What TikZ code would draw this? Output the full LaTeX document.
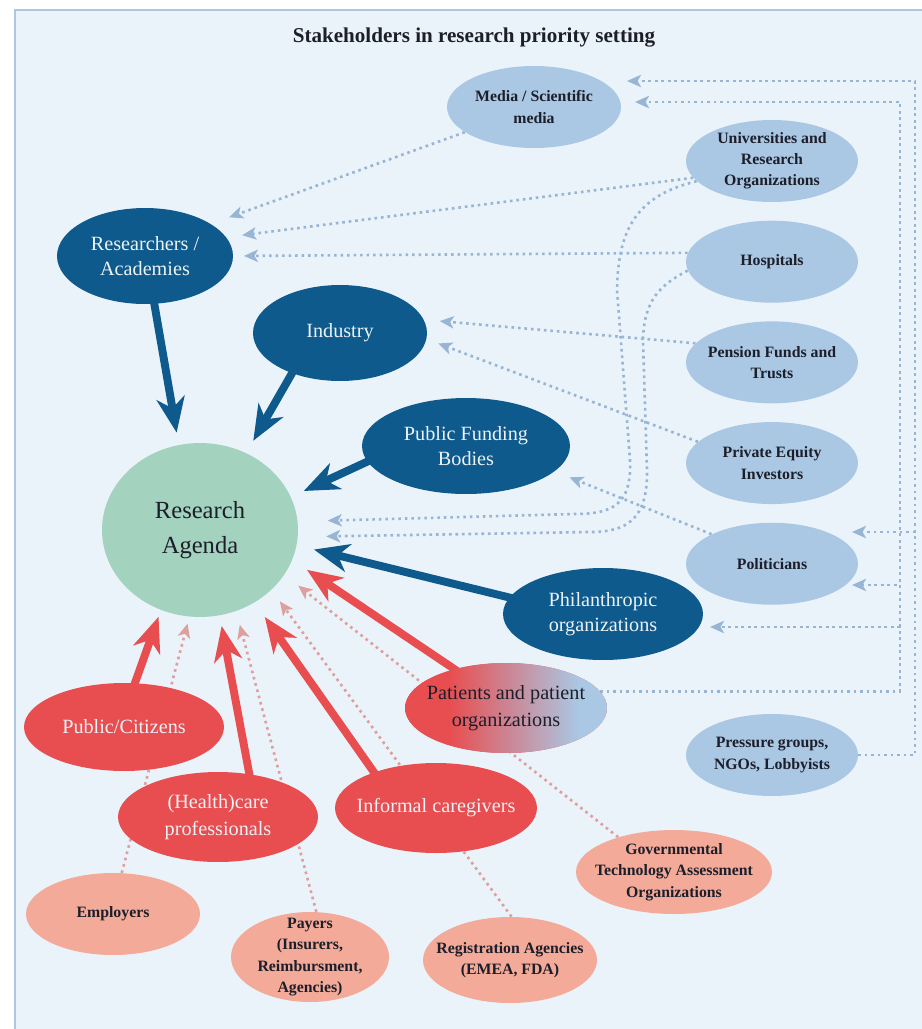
\documentclass[tikz,border=0pt]{standalone}
\usepackage{fontspec}
\setmainfont{Liberation Serif}
\usetikzlibrary{arrows.meta,shapes.geometric,positioning}

\definecolor{panelbg}{RGB}{235,243,250}
\definecolor{panelline}{RGB}{175,198,225}
\definecolor{dblue}{RGB}{14,90,140}
\definecolor{lblue}{RGB}{170,200,228}
\definecolor{dotb}{RGB}{152,182,212}
\definecolor{redc}{RGB}{232,78,80}
\definecolor{salmon}{RGB}{244,170,152}
\definecolor{dotp}{RGB}{222,160,158}
\definecolor{greenc}{RGB}{163,210,190}
\definecolor{txtdark}{RGB}{28,30,42}
\definecolor{txtlight}{RGB}{236,242,248}

\pgfdeclarehorizontalshading{patfade}{100bp}{color(0bp)=(redc); color(36bp)=(redc); color(68bp)=(lblue); color(100bp)=(lblue)}

\pgfdeclarelayer{panel}
\pgfdeclarelayer{links}
\pgfsetlayers{panel,links,main}

\tikzset{
  blob/.style={ellipse, inner sep=-8pt, align=center},
  agendanode/.style={blob, fill=greenc, text=txtdark, minimum width=3.92cm, minimum height=3.48cm, font=\fontsize{14}{20}\selectfont},
  bluenode/.style={blob, fill=dblue, text=txtlight, font=\fontsize{11.5}{14}\selectfont},
  lightnode/.style={blob, fill=lblue, text=txtdark, minimum width=3.44cm, minimum height=1.64cm, font=\bfseries\fontsize{9}{12}\selectfont},
  rednode/.style={blob, fill=redc, text=txtlight, font=\fontsize{11.5}{15}\selectfont},
  salmonnode/.style={blob, fill=salmon, text=txtdark, font=\bfseries\fontsize{9}{12.3}\selectfont},
  bigblue/.style={draw=dblue, line width=4.5pt, shorten <=-6pt, -{Stealth[length=20pt,width=16pt,inset=6pt]}},
  bigred/.style={draw=redc, line width=4.5pt, shorten <=-6pt, -{Stealth[length=20pt,width=16pt,inset=6pt]}},
  dotlink/.style={draw=dotb, line width=1.5pt, dash pattern=on 1.5pt off 2.2pt, -{Stealth[length=8pt,width=7pt,inset=2pt]}},
  dotpink/.style={draw=dotp, line width=1.5pt, dash pattern=on 1.5pt off 2.2pt, -{Stealth[length=8pt,width=7pt,inset=2pt]}}
}

\begin{document}
\begin{tikzpicture}[x=0.02cm, y=-0.02cm, node distance=0.36cm]
  \useasboundingbox (0,0) rectangle (922,1029);
  \begin{pgfonlayer}{panel}
    \fill[white] (0,0) rectangle (922,1029);
    \filldraw[fill=panelbg, draw=panelline, line width=0.8pt] (15,10) rectangle (950,1060);
  \end{pgfonlayer}

  \node[text=txtdark, font=\bfseries\fontsize{12}{14}\selectfont] (title) at (474,38) {Stakeholders in research priority setting};

  \node[agendanode] (ra) at (200,530) {Research\\Agenda};
  \node[bluenode, minimum width=3.52cm, minimum height=1.92cm] (res) at (145,256) {Researchers /\\Academies};
  \node[bluenode, minimum width=3.48cm, minimum height=1.92cm] (ind) at (340,333) {Industry};
  \node[bluenode, minimum width=4.16cm, minimum height=1.92cm] (pfb) at (466,446) {Public Funding\\Bodies};
  \node[bluenode, minimum width=4cm, minimum height=1.84cm] (phil) at (603,614) {Philanthropic\\organizations};

  \node[lightnode, minimum width=3.48cm] (media) at (534,107) {Media / Scientific\\media};
  \node[lightnode] (uni) at (772,161) {Universities and\\Research\\Organizations};
  \node[lightnode] (hosp) [below=of uni] {Hospitals};
  \node[lightnode] (pen) [below=of hosp] {Pension Funds and\\Trusts};
  \node[lightnode] (pe) [below=of pen] {Private Equity\\Investors};
  \node[lightnode] (pol) [below=of pe] {Politicians};
  \node[lightnode] (press) at (772,755) {Pressure groups,\\NGOs, Lobbyists};

  \node[rednode, shading=patfade, text=txtdark, minimum width=4.04cm, minimum height=1.8cm] (pat) at (506,708) {Patients and patient\\organizations};
  \node[rednode, minimum width=4cm, minimum height=1.76cm] (pub) at (124,727) {Public/Citizens};
  \node[rednode, minimum width=4cm, minimum height=1.8cm] (hc) at (218,817) {(Health)care\\professionals};
  \node[rednode, minimum width=4.04cm, minimum height=1.8cm] (inf) at (436,808) {Informal caregivers};

  \node[salmonnode, minimum width=3.48cm, minimum height=1.64cm] (emp) at (113,914) {Employers};
  \node[salmonnode, minimum width=3.16cm, minimum height=1.8cm] (pay) at (310,957) {Payers\\(Insurers,\\Reimbursment,\\Agencies)};
  \node[salmonnode, minimum width=3.48cm, minimum height=1.72cm] (reg) at (510,960) {Registration Agencies\\(EMEA, FDA)};
  \node[salmonnode, minimum width=3.92cm, minimum height=1.68cm] (gov) at (674,872) {Governmental\\Technology Assessment\\Organizations};

  \coordinate (outer) at (915,0);
  \coordinate (inner) at (900,0);
  \coordinate (medtipA) at (627,81);
  \coordinate (medtipB) at (635,102);
  \coordinate (poltipA) at (852,532);
  \coordinate (poltipB) at (852,585);
  \coordinate (philtip) at (710,627);

  \begin{pgfonlayer}{links}
    \path (media.200) edge [dotlink, shorten >=11pt] (res.26);
    \path (uni.192) edge [dotlink, shorten >=9pt] (res.13);
    \path (hosp.174) edge [dotlink, shorten >=6pt] (res.0);
    \path (pen.166) edge [dotlink, shorten >=9pt] (ind.9);
    \path (pe.164) edge [dotlink, shorten >=7pt] (ind.356);
    \path (pol.154) edge [dotlink, shorten >=9pt] (pfb.344);
    \draw[dotlink, shorten >=17pt] (uni.195) .. controls (640,195) and (618,225) .. (617,290)
      -- (630,460) .. controls (632,505) and (612,514) .. (575,514) -- (ra.5);
    \draw[dotlink, shorten >=16pt] (hosp.186) .. controls (660,285) and (644,300) .. (643,340)
      -- (647,470) .. controls (648,520) and (626,532) .. (590,532) -- (ra.356);

    \draw[dotlink] (press.east) -- (press.east -| outer) -- (outer |- medtipA) -- (medtipA);
    \draw[dotlink] (press.east) -- (press.east -| outer) -- (outer |- poltipA) -- (poltipA);
    \draw[dotlink] (pat.10) -- (pat.10 -| inner) -- (inner |- medtipB) -- (medtipB);
    \draw[dotlink] (pat.10) -- (pat.10 -| inner) -- (inner |- poltipB) -- (poltipB);
    \draw[dotlink] (pat.10) -- (pat.10 -| inner) -- (inner |- philtip) -- (philtip);

    \path (emp.78) edge [dotpink, shorten >=4pt] (ra.263);
    \path (pay.82) edge [dotpink, shorten >=8pt] (ra.294);
    \path (reg.88) edge [dotpink, shorten >=8pt] (ra.320);
    \path (gov.148) edge [dotpink, shorten >=10pt] (ra.332);

    \path (res.281) edge [bigblue, shorten >=7pt] (ra.104);
    \path (ind.220) edge [bigblue, shorten >=8pt] (ra.59);
    \path (pfb.189) edge [bigblue, shorten >=8pt] (ra.20);
    \path (phil.170) edge [bigblue, shorten >=10pt] (ra.351);
    \path (pat.143) edge [bigred, shorten >=10pt] (ra.342);
    \path (pub.76) edge [bigred, shorten >=4pt] (ra.244);
    \path (hc.54) edge [bigred, shorten >=6pt] (ra.283);
    \path (inf.150) edge [bigred, shorten >=10pt] (ra.307);
  \end{pgfonlayer}
\end{tikzpicture}
\end{document}
